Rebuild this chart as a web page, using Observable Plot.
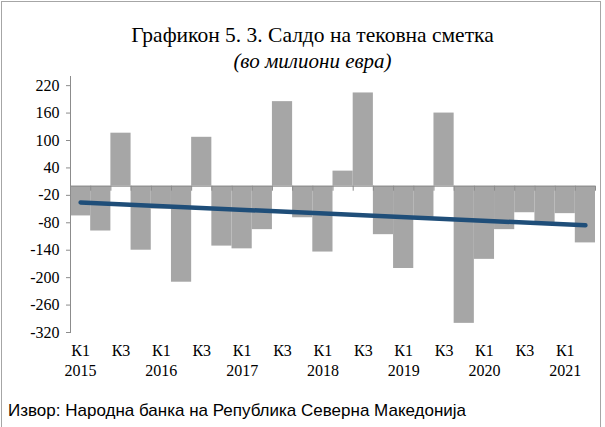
<!DOCTYPE html>
<html><head><meta charset="utf-8">
<script src="https://cdn.jsdelivr.net/npm/d3@7"></script>
<script src="https://cdn.jsdelivr.net/npm/@observablehq/plot@0.6"></script>
<style>
body{margin:0;background:#fff;}
#wrap{position:relative;width:605px;height:427px;overflow:hidden;font-family:"Liberation Serif",serif;color:#000;}
#frame{position:absolute;left:1px;top:1px;width:598px;height:440px;border:1px solid #a6a6a6;}
#title{position:absolute;top:22px;left:20px;width:585px;text-align:center;font-size:21.5px;line-height:26px;}
#subtitle{position:absolute;top:48px;left:20px;width:585px;text-align:center;font-size:21px;line-height:26px;font-style:italic;}
#chart{position:absolute;top:66px;left:0;}
#source{position:absolute;left:8px;top:401px;font-family:"Liberation Sans Narrow","Liberation Sans",sans-serif;font-size:17px;line-height:20px;}
</style>
</head><body>
<div id="wrap">
<div id="frame"></div>
<div id="title">Графикон 5. 3. Салдо на тековна сметка</div>
<div id="subtitle">(во милиони евра)</div>
<div id="chart"></div>
<div id="source">Извор: Народна банка на Република Северна Македонија</div>
</div>
<script>
// Quarterly current account balance, 2015 Q1 – 2021 Q2 (million EUR)
const values = [-65, -98, 116, -140, -50, -210, 107, -131, -137, -95, 185, -69, -144, 33, 204, -106, -180, -72, 160, -300, -160, -95, -58, -85, -60, -124];
const quarterLabels = ["К1","К3","К1","К3","К1","К3","К1","К3","К1","К3","К1","К3","К1"];
const yearLabels = ["2015","2016","2017","2018","2019","2020","2021"];
const yTicks = [220, 160, 100, 40, -20, -80, -140, -200, -260, -320];

const data = values.map((v, i) => ({i, v}));
const boundaries = d3.range(values.length + 1).map(k => k - 0.5);

const chart = Plot.plot({
  width: 605, height: 330,
  marginLeft: 70, marginRight: 10, marginTop: 10, marginBottom: 64,
  x: {domain: [-0.5, values.length - 0.5], axis: null},
  y: {domain: [-320, 240], axis: null},
  style: {fontFamily: "Liberation Serif", fontSize: "16px", color: "#000", background: "transparent"},
  marks: [
    Plot.rect(data, {x1: d => d.i - 0.5, x2: d => d.i + 0.5, y1: 0, y2: "v", fill: "#a6a6a6"}),
    Plot.ruleY([0], {stroke: "#8c8c8c", strokeWidth: 1}),
    Plot.ruleX(boundaries, {x: d => d, y1: 0, y2: 0, insetBottom: -5, stroke: "#8c8c8c"}),
    Plot.frame({anchor: "left", stroke: "#8c8c8c"}),
    Plot.axisY({ticks: yTicks, tickSize: 4, tickPadding: 7, tickFormat: d => String(d), label: null, stroke: "#8c8c8c", fill: "#000", fontSize: 16}),
    Plot.linearRegressionY(data, {x: "i", y: "v", ci: 0, stroke: "#1f4e79", strokeWidth: 4.5, strokeLinecap: "round"}),
    Plot.text(quarterLabels, {x: (d, k) => 2 * k, frameAnchor: "bottom", dy: 23, fontSize: 16, fill: "#000"}),
    Plot.text(yearLabels, {x: (d, k) => 4 * k, frameAnchor: "bottom", dy: 43, fontSize: 16, fill: "#000"})
  ]
});
document.getElementById("chart").appendChild(chart);
</script>
</body></html>
